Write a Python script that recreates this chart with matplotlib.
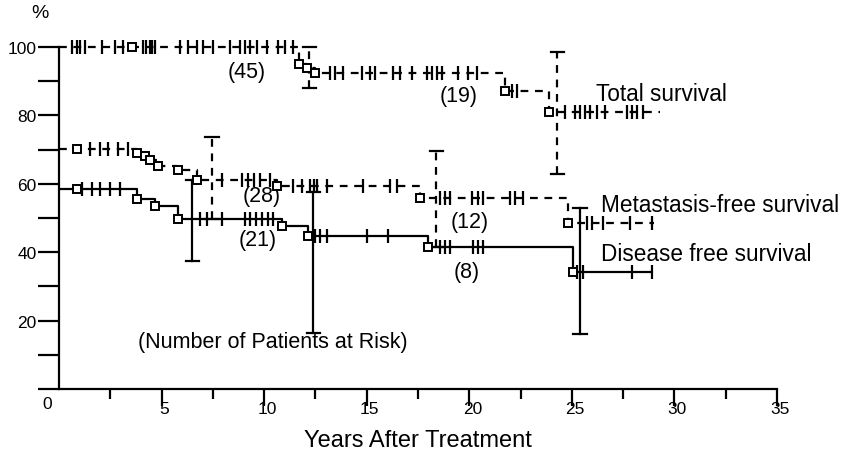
import matplotlib
matplotlib.use('Agg')
import matplotlib.pyplot as plt
from matplotlib.transforms import ScaledTranslation

plt.rcParams['font.family'] = ['Liberation Sans', 'DejaVu Sans']

# ---------------- data (years, % survival) ----------------
# Total survival
total_t = [0, 11.7, 12.1, 12.5, 21.75, 23.9]
total_s = [100, 95, 94, 92.5, 87, 81]
total_end = 29.3
total_sq = [3.56, 11.7, 12.1, 12.5, 21.75, 23.9]
total_cens = [0.63, 0.88, 1.02, 1.27, 2.10, 2.73, 3.12, 4.10, 4.24, 4.44, 4.53, 4.68,
              5.90, 6.29, 6.73, 7.02, 7.51, 8.34, 8.82, 9.07, 9.31, 9.65, 10.14,
              10.68, 11.02, 11.41, 13.21, 13.46, 13.85, 14.77, 15.16, 15.41, 16.28,
              16.63, 17.21, 17.94, 18.19, 18.43, 18.67, 19.45, 19.94, 20.38, 22.09,
              22.33, 24.67, 25.16, 25.40, 25.65, 25.89, 26.23, 26.62, 27.69, 27.94,
              28.18, 28.47]
total_err_x = [12.2, 24.3]
total_err_lo = [88, 63]
total_err_hi = [100, 98.5]

# Metastasis-free survival
meta_t = [0, 3.8, 4.2, 4.44, 4.83, 5.8, 6.73, 10.63, 17.6, 24.82]
meta_s = [70.2, 69, 68, 67, 65.2, 64, 61.2, 59.4, 55.8, 48.6]
meta_end = 29.0
meta_sq = [0.88, 3.8, 4.2, 4.44, 4.83, 5.8, 6.73, 10.63, 17.6, 24.82]
meta_cens = [1.51, 2.0, 2.39, 2.88, 3.36, 7.95, 8.92, 9.21, 9.51, 9.80, 10.29,
             11.41, 11.85, 12.24, 12.43, 12.58, 13.07, 14.82, 16.14, 16.48,
             18.58, 18.82, 19.06, 20.14, 20.43, 20.67, 21.99, 22.23, 22.62,
             25.74, 25.99, 26.52, 27.84, 28.91]
meta_err_x = [7.45, 18.4]
meta_err_lo = [49.7, 41.5]
meta_err_hi = [73.7, 69.6]

# Disease free survival
dfs_t = [0, 3.8, 4.68, 5.8, 10.87, 12.14, 17.99, 25.06]
dfs_s = [58.5, 55.5, 53.5, 49.7, 47.7, 44.7, 41.5, 34.3]
dfs_end = 28.9
dfs_sq = [0.88, 3.8, 4.68, 5.8, 10.87, 12.14, 17.99, 25.06]
dfs_cens = [1.12, 1.61, 2.0, 2.49, 2.97, 6.87, 7.22, 7.95, 9.07, 9.31, 9.61, 9.90,
            10.19, 10.43, 12.48, 12.73, 13.07, 15.02, 16.04, 18.58, 18.82, 19.06,
            20.19, 20.43, 20.67, 25.26, 25.55, 27.94, 28.91]
dfs_err_x = [6.5, 12.4, 25.4]
dfs_err_lo = [37.5, 16.5, 16.0]
dfs_err_hi = [61, 57.6, 53]

y_ticks = [0, 20, 40, 60, 80, 100]
y_labels = ['', '20', '40', '60', '80', '100']
x_ticks = [5, 10, 15, 20, 25, 30, 35]
x_labels = ['5', '10', '15', '20', '25', '30', '35']

curve_labels = ['Total survival', 'Metastasis-free survival', 'Disease free survival']
risk_labels = ['(45)', '(19)', '(28)', '(21)', '(12)', '(8)']

# ---------------- drawing ----------------
W, H = 845, 460
fig = plt.figure(figsize=(W / 100, H / 100), dpi=100)
ax = fig.add_axes([59 / W, 1 - 390 / H, 718 / W, 342 / H])
ax.set_xlim(0, 35)
ax.set_ylim(0, 100)

lw = 1.6


def surv_at(times, vals, x):
    v = vals[0]
    for t, s in zip(times, vals):
        if x >= t - 1e-9:
            v = s
    return v


def draw_curve(times, vals, end, sq, cens, ex, elo, ehi, ls):
    xs = list(times) + [end]
    ys = list(vals) + [vals[-1]]
    line, = ax.step(xs, ys, where='post', color='black', lw=lw, clip_on=False,
                    solid_capstyle='butt')
    if ls == 'dashed':
        line.set_dashes((3.5, 3))
    ax.plot(cens, [surv_at(times, vals, c) for c in cens], ls='none', marker='|',
            ms=10, mew=1.6, color='black', clip_on=False)
    ax.plot(sq, [surv_at(times, vals, s) for s in sq], ls='none', marker='s',
            ms=5.8, mew=1.4, mfc='white', mec='black', clip_on=False, zorder=4)
    for x, lo, hi in zip(ex, elo, ehi):
        v, = ax.plot([x, x], [lo, hi], color='black', lw=lw, clip_on=False)
        if ls == 'dashed':
            v.set_dashes((3.5, 3))
        ax.plot([x - 0.33, x + 0.33], [hi, hi], color='black', lw=lw, clip_on=False)
        ax.plot([x - 0.33, x + 0.33], [lo, lo], color='black', lw=lw, clip_on=False)


draw_curve(total_t, total_s, total_end, total_sq, total_cens,
           total_err_x, total_err_lo, total_err_hi, 'dashed')
draw_curve(meta_t, meta_s, meta_end, meta_sq, meta_cens,
           meta_err_x, meta_err_lo, meta_err_hi, 'dashed')
draw_curve(dfs_t, dfs_s, dfs_end, dfs_sq, dfs_cens,
           dfs_err_x, dfs_err_lo, dfs_err_hi, 'solid')

# axes styling
for s in ['top', 'right']:
    ax.spines[s].set_visible(False)
for s in ['left', 'bottom']:
    ax.spines[s].set_linewidth(lw)

ax.set_yticks(y_ticks)
ax.set_yticklabels(y_labels, fontsize=12.5)
ax.set_yticks([10, 30, 50, 70, 90], minor=True)
ax.tick_params(axis='y', which='both', direction='out', length=15, width=lw, pad=1)

ax.set_xticks(x_ticks)
ax.set_xticklabels(x_labels, fontsize=12.5)
ax.set_xticks([2.5, 7.5, 12.5, 17.5, 22.5, 27.5, 32.5], minor=True)
ax.tick_params(axis='x', which='major', direction='out', length=12, width=lw, pad=-3)
ax.tick_params(axis='x', which='minor', direction='out', length=7, width=lw)
for lab in ax.get_xticklabels():
    lab.set_transform(lab.get_transform() + ScaledTranslation(3 / 100, 0, fig.dpi_scale_trans))

ax.set_xlabel('Years After Treatment', fontsize=17, labelpad=9)

fig.text(40 / W, 1 - 13 / H, '%', fontsize=14, ha='center', va='center')
fig.text(47 / W, 1 - 405 / H, '0', fontsize=12.5, ha='center', va='center')

ax.text(26.2, 86.5, curve_labels[0], fontsize=16.3, ha='left', va='center')
ax.text(26.4, 54.0, curve_labels[1], fontsize=16.3, ha='left', va='center')
ax.text(26.4, 39.5, curve_labels[2], fontsize=16.3, ha='left', va='center')
ax.text(3.85, 14.0, '(Number of Patients at Risk)', fontsize=15.5, ha='left', va='center')

risk_x = [9.17, 19.5, 9.9, 9.7, 20.0, 19.85]
risk_y = [92.7, 85.7, 56.7, 43.6, 49.0, 34.5]
for lab, x, y in zip(risk_labels, risk_x, risk_y):
    ax.text(x, y, lab, fontsize=15.5, ha='center', va='center')

fig.savefig('out.png', dpi=100)
